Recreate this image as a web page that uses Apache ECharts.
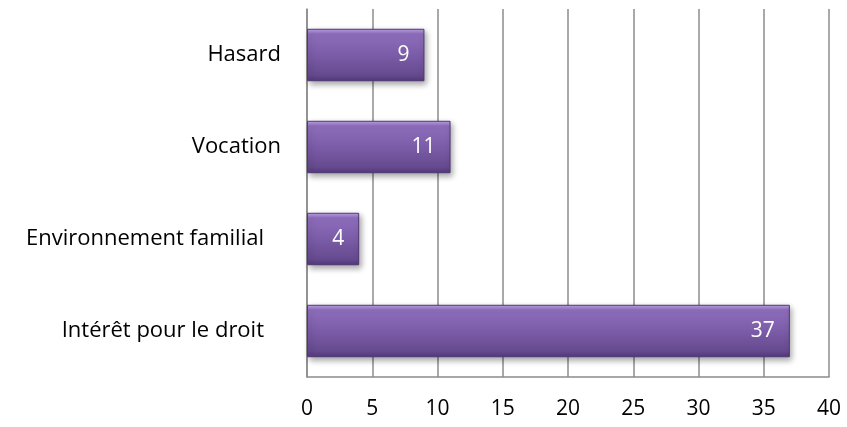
<!DOCTYPE html>
<html>
<head>
<meta charset="utf-8">
<script src="https://cdn.jsdelivr.net/npm/echarts@6/dist/echarts.min.js"></script>
<style>
html, body { margin: 0; padding: 0; background: #fff; }
#chart { width: 847px; height: 427px; }
</style>
</head>
<body>
<div id="chart"></div>
<script>
// Categories listed bottom to top (category axis runs upward)
const categories = ['Intérêt pour le droit', 'Environnement familial', 'Vocation', 'Hasard'];
const values = [37, 4, 11, 9];
const xTicks = [0, 5, 10, 15, 20, 25, 30, 35, 40];

// Per-label right padding so the text sits as in the layout
const labelStyle = { 'Intérêt pour le droit': 'b', 'Environnement familial': 'b', 'Vocation': 'a', 'Hasard': 'a' };

const chart = echarts.init(document.getElementById('chart'));
const font = '"Open Sans", sans-serif';
const fs = 22;

chart.setOption({
  animation: false,
  grid: { left: 307, right: 18, top: 9, bottom: 50, containLabel: false },
  xAxis: {
    type: 'value',
    min: xTicks[0],
    max: xTicks[xTicks.length - 1],
    interval: 5,
    axisLine: { show: true, lineStyle: { color: '#8c8c8c', width: 1.5 } },
    axisTick: { show: false },
    splitLine: { show: true, lineStyle: { color: '#8c8c8c', width: 1.5 } },
    axisLabel: { color: '#000', fontSize: fs - 1, fontFamily: font, margin: 22 }
  },
  yAxis: {
    type: 'category',
    data: categories,
    axisLine: { show: true, lineStyle: { color: '#8c8c8c', width: 1.5 } },
    axisTick: { show: false },
    axisLabel: {
      color: '#000', fontSize: fs, fontFamily: font, margin: 26,
      formatter: v => '{' + labelStyle[v] + '|' + v + '}',
      rich: {
        a: { color: '#000', fontSize: fs, fontFamily: font, padding: [0, 0, 0, 0] },
        b: { color: '#000', fontSize: fs, fontFamily: font, padding: [0, 17, 0, 0] }
      }
    }
  },
  series: [{
    type: 'bar',
    data: values,
    barCategoryGap: '43%',
    itemStyle: {
      color: new echarts.graphic.LinearGradient(0, 0, 0, 1, [
        { offset: 0, color: '#c3a6ec' },
        { offset: 0.1, color: '#8e6ebd' },
        { offset: 0.5, color: '#7b5ca8' },
        { offset: 0.88, color: '#664a8f' },
        { offset: 1, color: '#54397a' }
      ]),
      borderColor: '#4f3872',
      borderWidth: 1,
      shadowColor: 'rgba(0,0,0,0.35)',
      shadowBlur: 6,
      shadowOffsetX: 2,
      shadowOffsetY: 3
    },
    label: {
      show: true,
      position: 'insideRight',
      distance: 15,
      color: '#fff',
      fontSize: fs - 1,
      fontFamily: font
    }
  }]
});
</script>
</body>
</html>
